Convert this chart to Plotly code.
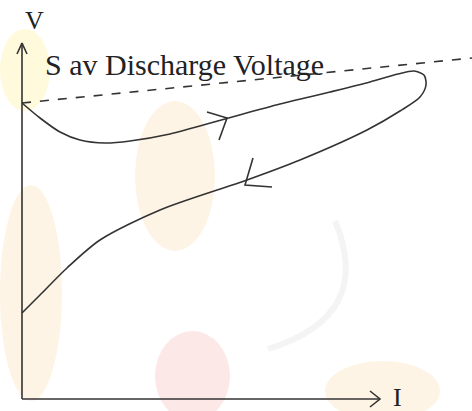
import plotly.graph_objects as go

# sketch coordinates (arbitrary units, I to the right, V up)
axis_origin = (22, 12)
axis_i_end = 380
axis_v_end = 368

# dashed "S av" reference line
ref_i = [22, 472]
ref_v = [308, 353]

# charge branch (top, going right)
upper_i = [22, 40, 60, 80, 105, 130, 170, 225, 280, 330, 370, 398, 414, 424, 426]
upper_v = [308, 293, 279, 271, 268, 270, 277, 292, 307, 319, 329, 337, 340, 336, 326]

# discharge branch (bottom, going back left)
lower_i = [420, 400, 367, 300, 247, 160, 100, 67, 40, 22]
lower_v = [314, 300, 281, 251, 231, 201, 171, 143, 116, 98]

line_col = "#333333"

fig = go.Figure()

# axes with open arrow heads
ox, oy = axis_origin
fig.add_trace(go.Scatter(x=[ox, ox, None, ox - 5, ox, ox + 5], y=[oy, axis_v_end, None, axis_v_end - 11, axis_v_end, axis_v_end - 11],
                         mode="lines", line=dict(color=line_col, width=1.6), showlegend=False))
fig.add_trace(go.Scatter(x=[ox, axis_i_end, None, axis_i_end - 10, axis_i_end, axis_i_end - 10], y=[oy, oy, None, oy + 8, oy, oy - 8],
                         mode="lines", line=dict(color=line_col, width=1.6), showlegend=False))

fig.add_trace(go.Scatter(x=ref_i, y=ref_v, mode="lines",
                         line=dict(color=line_col, width=1.6, dash="dash"), showlegend=False))
fig.add_trace(go.Scatter(x=upper_i + lower_i, y=upper_v + lower_v, mode="lines",
                         line=dict(color=line_col, width=1.6, shape="spline", smoothing=0.8), showlegend=False))

# direction marks
fig.add_trace(go.Scatter(x=[207, 227, 219], y=[299, 293, 271], mode="lines",
                         line=dict(color=line_col, width=1.6), showlegend=False))
fig.add_trace(go.Scatter(x=[253, 245, 272], y=[253, 226, 224], mode="lines",
                         line=dict(color=line_col, width=1.6), showlegend=False))

fig.add_annotation(x=43, y=347, text="S av Discharge Voltage", showarrow=False,
                   xanchor="left", yanchor="middle",
                   font=dict(family="Liberation Serif", size=30, color="#222222"))
fig.add_annotation(x=34, y=391, text="V", showarrow=False,
                   font=dict(family="Liberation Serif", size=26, color="#222222"))
fig.add_annotation(x=397, y=14, text="I", showarrow=False,
                   font=dict(family="Liberation Serif", size=26, color="#222222"))

# faint watermark blobs of the scan
blobs = [
    (0, 300, 50, 382, "#fff6c4"),
    (0, 10, 62, 226, "#fdecd4"),
    (135, 160, 215, 310, "#fdecd4"),
    (155, -10, 230, 80, "#fbd9d9"),
    (325, -10, 440, 50, "#fdecd4"),
]
for x0, y0, x1, y1, c in blobs:
    fig.add_shape(type="circle", x0=x0, y0=y0, x1=x1, y1=y1, fillcolor=c,
                  line=dict(width=0), layer="below", opacity=0.6)
fig.add_shape(type="path", path="M 335,190 Q 375,95 268,62", line=dict(color="#f4f4f4", width=6),
              layer="below")

fig.update_layout(
    width=472, height=411,
    margin=dict(l=0, r=0, t=0, b=0),
    paper_bgcolor="white", plot_bgcolor="white",
    xaxis=dict(range=[0, 472], visible=False),
    yaxis=dict(range=[0, 411], visible=False),
)

# drop the default 8px body margin so the figure fills the window
fig.write_html("out.html", config={"displayModeBar": False},
               post_script="document.body.style.margin='0';document.body.style.overflow='hidden';")
